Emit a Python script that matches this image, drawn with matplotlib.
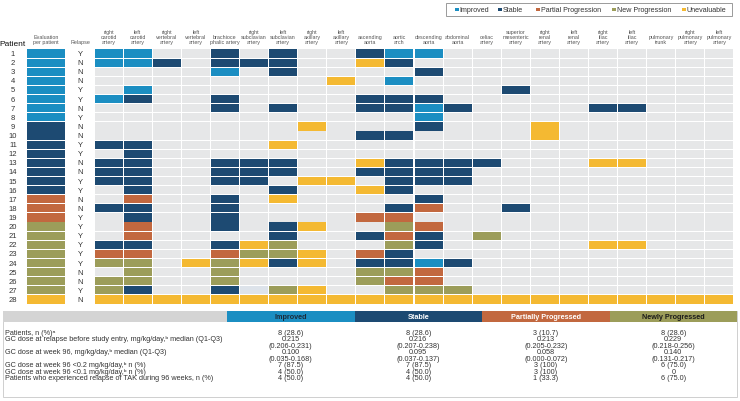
import matplotlib.pyplot as plt
import numpy as np
from matplotlib.patches import Rectangle

plt.rcParams['font.family'] = ['Liberation Sans', 'DejaVu Sans']

# colores por estado
COLORES = {
    "I": "#1b8ec2",   # Improved
    "S": "#1d4a72",   # Stable
    "P": "#c2683f",   # Partial Progression
    "N": "#9c9d5a",   # New Progression
    "U": "#f4b932",   # Unevaluable
    ".": "#e6e7e8",   # sin lesion
    "L": "#dde3ea",   # celda tenue
}

leyenda = ["Improved", "Stable", "Partial Progression", "New Progression", "Unevaluable"]
leyenda_cod = ["I", "S", "P", "N", "U"]

arterias = ["right\ncarotid\nartery", "left\ncarotid\nartery", "right\nvertebral\nartery",
            "left\nvertebral\nartery", "brachioce\nphalic artery", "right\nsubclavian\nartery",
            "left\nsubclavian\nartery", "right\naxillary\nartery", "left\naxillary\nartery",
            "ascending\naorta", "aortic\narch", "descending\naorta", "abdominal\naorta",
            "celiac\nartery", "superior\nmesenteric\nartery", "right\nrenal\nartery",
            "left\nrenal\nartery", "right\niliac\nartery", "left\niliac\nartery",
            "pulmonary\ntrunk", "right\npulmonary\nartery", "left\npulmonary\nartery"]

pacientes = list(range(1, 29))
evaluacion = list("IIIIIIII" + "SSSSSSSS" + "PPP" + "NNNNNNNN" + "U")
recaida = list("YNNNYYNYNNYYNNYYNNYYYYYYNNYN")

# cuello(9) | aorta(4) | visceral(6) | pulmonar(3)
estados = [
    "II..S.S..|SII.|......|...",
    "IIS.SSS..|US..|......|...",
    "....I.S..|..S.|......|...",
    "........U|.I..|......|...",
    ".I.......|....|.S....|...",
    "IS..S....|SSS.|......|...",
    "....S.S..|SSIS|....SS|...",
    ".........|..I.|......|...",
    ".......U.|..S.|..U...|...",
    ".........|SS..|..U...|...",
    "SS....U..|....|......|...",
    ".S.......|....|......|...",
    "SS..SSS..|USSS|S...UU|...",
    "SS..SSS..|SSSS|......|...",
    "SS..SS.UU|.SSS|......|...",
    ".S....S..|US..|......|...",
    ".P..S.U..|..S.|......|...",
    "SS..S....|.SP.|.S....|...",
    ".S..S....|PP..|......|...",
    ".P..S.SU.|.NP.|......|...",
    ".P....S..|SPS.|N.....|...",
    "SS..SUN..|.NS.|....UU|...",
    "PP..PNNU.|PS..|......|...",
    "NN.UNUSU.|SSIS|......|...",
    ".N..N....|NNP.|......|...",
    "NN..N....|NPP.|......|...",
    "NS..SLNU.|.NNN|......|...",
    "UUUUUUUUU|UUUU|UUUUUU|UUU",
]

# tabla inferior
grupos = ["Improved", "Stable", "Partially Progressed", "Newly Progressed"]
grupos_color = ["#1b8ec2", "#1d4a72", "#c2683f", "#9c9d5a"]
grupos_texto = ["#1a2a3a", "white", "white", "#1a1a1a"]
filas_tabla = ["Patients, n (%)ᵃ",
               "GC dose at relapse before study entry, mg/kg/day,ᵇ median (Q1-Q3)",
               "",
               "GC dose at week 96, mg/kg/day,ᵇ median (Q1-Q3)",
               "",
               "GC dose at week 96 <0.2 mg/kg/day,ᵇ n (%)",
               "GC dose at week 96 <0.1 mg/kg/day,ᵇ n (%)",
               "Patients who experienced relapse of TAK during 96 weeks, n (%)"]
col_improved = ["8 (28.6)", "0.215", "(0.206-0.231)", "0.100", "(0.035-0.168)", "7 (87.5)", "4 (50.0)", "4 (50.0)"]
col_stable = ["8 (28.6)", "0.216", "(0.207-0.238)", "0.095", "(0.037-0.137)", "7 (87.5)", "4 (50.0)", "4 (50.0)"]
col_partial = ["3 (10.7)", "0.213", "(0.205-0.232)", "0.058", "(0.000-0.072)", "3 (100)", "3 (100)", "1 (33.3)"]
col_new = ["8 (28.6)", "0.229", "(0.218-0.256)", "0.140", "(0.131-0.217)", "6 (75.0)", "0", "6 (75.0)"]


W, H = 740, 402
fig = plt.figure(figsize=(W / 100, H / 100), dpi=100)

# eje en pixeles para leyenda y tabla
ax = fig.add_axes([0, 0, 1, 1])
ax.set_xlim(0, W)
ax.set_ylim(H, 0)
ax.axis('off')

# eje de la grilla (columnas x filas)
GX0, GX1, GY0, GY1 = 94, 734, 50, 305
narts = len(arterias)
gx = fig.add_axes([GX0 / W, (H - GY1) / H, (GX1 - GX0) / W, (GY1 - GY0) / H])
gx.set_xlim(0, narts)
gx.set_ylim(len(pacientes), 0)
gx.axis('off')
paso = (GX1 - GX0) / narts
alto_fila = (GY1 - GY0) / len(pacientes)


def px2col(x):
    return (x - GX0) / paso


cols = np.arange(narts)
for r, fila in enumerate(estados):
    cod = fila.replace("|", "")
    gx.barh(r + 0.5, 0.96, left=cols + 0.02, height=0.9,
            color=[COLORES[c] for c in cod], linewidth=0)
    gx.barh(r + 0.5, px2col(65) - px2col(27), left=px2col(27), height=0.9,
            color=COLORES[evaluacion[r]], linewidth=0, clip_on=False)
    gx.text(px2col(13), r + 0.5, str(pacientes[r]), ha='center', va='center',
            fontsize=5.5, color='#333333', clip_on=False)
    gx.text(px2col(80), r + 0.5, recaida[r], ha='center', va='center',
            fontsize=5.5, color='#333333', clip_on=False)

hy = (45 - GY0) / alto_fila
for c, nombre in enumerate(arterias):
    gx.text(c + 0.5, hy, nombre, ha='center', va='bottom', fontsize=3.9,
            color='#555555', linespacing=1.05, clip_on=False)
gx.text(px2col(46), hy, "Evaluation\nper patient", ha='center', va='bottom',
        fontsize=3.9, color='#555555', linespacing=1.05, clip_on=False)
gx.text(px2col(80), hy, "Relapse", ha='center', va='bottom',
        fontsize=3.9, color='#555555', clip_on=False)
gx.text(px2col(13), (48 - GY0) / alto_fila, "Patient", ha='center', va='bottom',
        fontsize=6, color='#111111', clip_on=False)

# leyenda
ax.add_patch(Rectangle((446, 4), 286, 13, facecolor='white', edgecolor='#8a8a8a', lw=0.6))
pos_ley = [455, 498, 536, 612, 682]
for x, nom, cod in zip(pos_ley, leyenda, leyenda_cod):
    ax.add_patch(Rectangle((x, 8.8), 3.6, 3.6, color=COLORES[cod], lw=0))
    ax.text(x + 4.6, 10.8, nom, ha='left', va='center', fontsize=5.1, color='#333333')

# tabla
ax.add_patch(Rectangle((3, 312), 734, 86, facecolor='none', edgecolor='#cfcfcf', lw=0.7))
ax.add_patch(Rectangle((3, 312), 224, 11, color='#d4d4d4', lw=0))
ancho = (737 - 227) / 4
valores = [col_improved, col_stable, col_partial, col_new]
for i, (g, gc, tc) in enumerate(zip(grupos, grupos_color, grupos_texto)):
    x0 = 227 + i * ancho
    ax.add_patch(Rectangle((x0, 312), ancho, 11, color=gc, lw=0))
    ax.text(x0 + ancho / 2, 317.7, g, ha='center', va='center', fontsize=5.2,
            fontweight='bold', color=tc)
    for k, v in enumerate(valores[i]):
        ax.text(x0 + ancho / 2, 333.5 + k * 6.5, v, ha='center', va='center',
                fontsize=5.2, color='#333333')
for k, etiqueta in enumerate(filas_tabla):
    ax.text(5, 333.5 + k * 6.5, etiqueta, ha='left', va='center', fontsize=5.2,
            color='#333333')

plt.savefig("out.png", dpi=100)
